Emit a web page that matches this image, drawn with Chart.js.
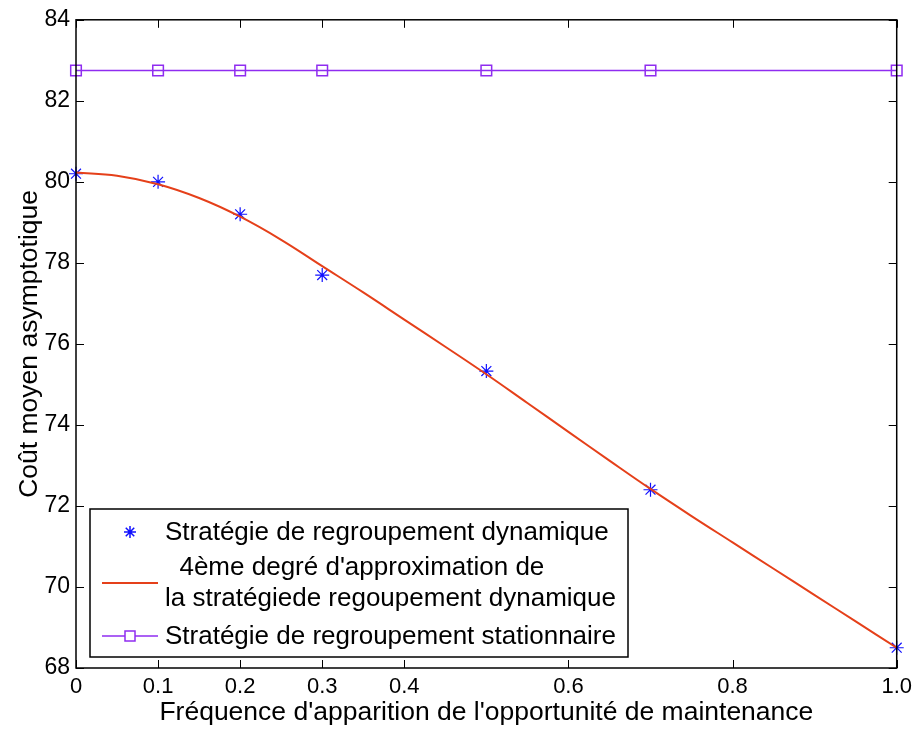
<!DOCTYPE html>
<html>
<head>
<meta charset="utf-8">
<script src="https://cdn.jsdelivr.net/npm/chart.js@4/dist/chart.umd.min.js"></script>
<style>
  html, body { margin: 0; padding: 0; background: #fff; }
  #wrap { width: 918px; height: 729px; }
</style>
</head>
<body>
<div id="wrap"><canvas id="chart" width="918" height="729"></canvas></div>
<script>
// données
const xPoints      = [0, 0.1, 0.2, 0.3, 0.5, 0.7, 1.0];
const dynamique    = [80.2, 80.0, 79.2, 77.7, 75.33, 72.4, 68.5];
const stationnaire = [82.75, 82.75, 82.75, 82.75, 82.75, 82.75, 82.75];

// courbe d'approximation (valeurs relevées sur le tracé rouge)
const xFit = [0, 0.05, 0.1, 0.15, 0.2, 0.25, 0.3, 0.35, 0.4, 0.45, 0.5,
              0.55, 0.6, 0.65, 0.7, 0.75, 0.8, 0.85, 0.9, 0.95, 1.0];
const yFit = [80.23, 80.15, 79.94, 79.6, 79.14, 78.57, 77.92, 77.27, 76.6, 75.93, 75.25,
              74.54, 73.83, 73.12, 72.42, 71.75, 71.1, 70.45, 69.8, 69.15, 68.5];

const xTickValues = [0, 0.1, 0.2, 0.3, 0.4, 0.6, 0.8, 1.0];
const xTickLabels = ['0', '0.1', '0.2', '0.3', '0.4', '0.6', '0.8', '1.0'];

const legendLabels = [
  ['Stratégie de regroupement dynamique'],
  ['  4ème degré d\'approximation de', 'la stratégiede regoupement dynamique'],
  ['Stratégie de regroupement stationnaire']
];

const BLUE = '#1010ff', RED = '#e5401a', PURPLE = '#8f2cf0';
const FONT = '"Liberation Sans", Arial, sans-serif';

const toXY = (xs, ys) => xs.map((x, i) => ({ x, y: ys[i] }));

// cadre + graduations intérieures
const framePlugin = {
  id: 'frame',
  afterDraw(chart) {
    const { ctx, chartArea: a, scales: { x, y } } = chart;
    ctx.save();
    ctx.strokeStyle = '#000';
    ctx.lineWidth = 1;
    ctx.beginPath();
    xTickValues.forEach(v => {
      const px = Math.round(x.getPixelForValue(v)) + 0.5;
      ctx.moveTo(px, a.bottom); ctx.lineTo(px, a.bottom - 8);
      ctx.moveTo(px, a.top);    ctx.lineTo(px, a.top + 8);
    });
    y.ticks.forEach(t => {
      const py = Math.round(y.getPixelForValue(t.value)) + 0.5;
      ctx.moveTo(a.left, py);  ctx.lineTo(a.left + 8, py);
      ctx.moveTo(a.right, py); ctx.lineTo(a.right - 8, py);
    });
    ctx.stroke();
    ctx.lineWidth = 1.5;
    ctx.strokeRect(a.left, a.top, a.right - a.left, a.bottom - a.top);
    ctx.restore();
  }
};

// légende dessinée à la main (multi-ligne)
const legendPlugin = {
  id: 'customLegend',
  afterDraw(chart) {
    const { ctx } = chart;
    const box = { l: 90, t: 509, r: 628, b: 657 };
    ctx.save();
    ctx.fillStyle = '#fff';
    ctx.fillRect(box.l, box.t, box.r - box.l, box.b - box.t);
    ctx.strokeStyle = '#000';
    ctx.lineWidth = 1.5;
    ctx.strokeRect(box.l, box.t, box.r - box.l, box.b - box.t);

    ctx.font = '26px ' + FONT;
    ctx.fillStyle = '#000';
    ctx.textBaseline = 'middle';
    const textX = 165;
    // ligne 1 : étoiles
    ctx.strokeStyle = BLUE;
    Chart.helpers.drawPoint(ctx, { pointStyle: 'star', radius: 6, borderWidth: 1, rotation: 0 }, 130, 532);
    ctx.fillText(legendLabels[0][0], textX, 533);
    // ligne 2 : courbe rouge
    ctx.strokeStyle = RED; ctx.lineWidth = 2;
    ctx.beginPath(); ctx.moveTo(102, 583); ctx.lineTo(158, 583); ctx.stroke();
    ctx.fillText(legendLabels[1][0], textX, 568);
    ctx.fillText(legendLabels[1][1], textX, 599);
    // ligne 3 : stationnaire
    ctx.strokeStyle = PURPLE; ctx.lineWidth = 1.5;
    ctx.beginPath(); ctx.moveTo(102, 636); ctx.lineTo(158, 636); ctx.stroke();
    ctx.fillStyle = '#fff';
    ctx.fillRect(125, 631, 10, 10);
    ctx.strokeRect(125, 631, 10, 10);
    ctx.fillStyle = '#000';
    ctx.fillText(legendLabels[2][0], textX, 637);
    ctx.restore();
  }
};

const chart = new Chart(document.getElementById('chart'), {
  type: 'scatter',
  data: {
    datasets: [
      {
        label: 'Stratégie de regroupement stationnaire',
        data: toXY(xPoints, stationnaire),
        showLine: true,
        borderColor: PURPLE,
        borderWidth: 1.5,
        pointStyle: 'rect',
        pointRadius: 7.5,
        pointBorderColor: PURPLE,
        pointBackgroundColor: 'rgba(0,0,0,0)',
        pointBorderWidth: 1.5,
        clip: false
      },
      {
        label: 'Approximation',
        data: toXY(xFit, yFit),
        showLine: true,
        borderColor: RED,
        borderWidth: 2,
        pointRadius: 0,
        tension: 0.4
      },
      {
        label: 'Stratégie de regroupement dynamique',
        data: toXY(xPoints, dynamique),
        showLine: false,
        pointStyle: 'star',
        pointRadius: 7,
        pointBorderColor: BLUE,
        pointBorderWidth: 1.2,
        clip: false
      }
    ]
  },
  options: {
    responsive: false,
    animation: false,
    layout: { padding: { left: 0, right: 17, top: 18, bottom: 0 } },
    plugins: { legend: { display: false }, tooltip: { enabled: false } },
    scales: {
      x: {
        type: 'linear', min: 0, max: 1,
        grid: { display: false, drawTicks: false },
        border: { display: false },
        afterBuildTicks: s => { s.ticks = xTickValues.map(v => ({ value: v })); },
        afterFit: s => { s.height = 61; },
        ticks: {
          padding: 6,
          color: '#000',
          font: { family: FONT, size: 22 },
          callback: v => xTickLabels[xTickValues.indexOf(v)] ?? ''
        },
        title: {
          display: true,
          text: 'Fréquence d\'apparition de l\'opportunité de maintenance',
          color: '#000',
          font: { family: FONT, size: 26.5 },
          padding: { top: 0, bottom: 0 }
        }
      },
      y: {
        min: 68, max: 84,
        grid: { display: false, drawTicks: false },
        border: { display: false },
        afterFit: s => { s.width = 76; },
        ticks: {
          stepSize: 2,
          padding: 6,
          color: '#000',
          font: { family: FONT, size: 23 }
        },
        title: {
          display: true,
          text: 'Coût moyen asymptotique',
          color: '#000',
          font: { family: FONT, size: 26.5 },
          padding: { top: 14, bottom: 0 }
        }
      }
    }
  },
  plugins: [framePlugin, legendPlugin]
});
</script>
</body>
</html>
